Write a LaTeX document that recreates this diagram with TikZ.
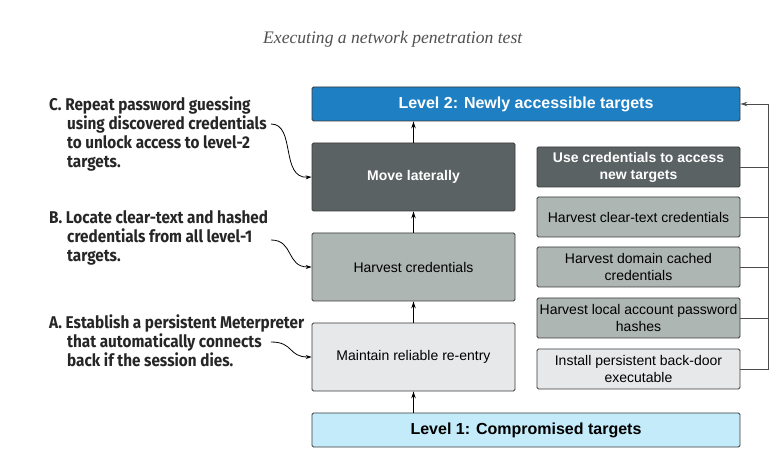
\documentclass[tikz,border=0pt]{standalone}
\usepackage{fontspec}
\setmainfont{Liberation Sans}
\newfontfamily\hdrfont{Liberation Serif}
\newfontfamily\annfont[FakeStretch=0.9]{Fira Sans}
\usetikzlibrary{arrows.meta}
\definecolor{lvltwo}{HTML}{1E7FC3}
\definecolor{darkbox}{HTML}{5B6263}
\definecolor{midbox}{HTML}{AEB6B4}
\definecolor{lightbox}{HTML}{E6E8E9}
\definecolor{lvlone}{HTML}{C4EBF9}
\definecolor{edgecol}{HTML}{3A3A3A}
\definecolor{hdrcol}{HTML}{505050}
\tikzset{
  box/.style={draw=edgecol, line width=0.9pt, rounded corners=1.5pt, inner sep=1pt, align=center,
    font=\fontsize{14}{17}\selectfont},
  widebox/.style={box, minimum width=428pt, minimum height=34pt, font=\fontsize{16}{19}\selectfont\bfseries},
  leftbox/.style={box, minimum width=203pt, minimum height=68pt},
  rightbox/.style={box, minimum width=203pt, minimum height=40pt},
  upar/.style={line width=0.9pt, -{Stealth[length=7pt,width=4.5pt]}},
  busline/.style={draw=black!70, line width=0.8pt},
  annarr/.style={line width=0.8pt, -{Stealth[length=6pt,width=4pt]}},
  ann/.style={anchor=base west, inner sep=0pt, text=black!85, font=\annfont\bfseries\fontsize{17}{19}\selectfont},
}
\begin{document}
\begin{tikzpicture}[x=1pt,y=-1pt]
\useasboundingbox (0,0) rectangle (777,462);
\node[anchor=base west, inner sep=0pt, text=hdrcol, font=\hdrfont\itshape\fontsize{17.6}{19}\selectfont] (hdr) at (263,44) {Executing a network penetration test};

\node[widebox, fill=lvltwo, text=white] (l2) at (526,104) {Level 2: Newly accessible targets};
\node[leftbox, fill=darkbox, text=white, font=\fontsize{14}{17}\selectfont\bfseries] (mv) at (413.5,177) {Move laterally};
\node[leftbox, fill=midbox] (hc) at (413.5,267) {Harvest credentials};
\node[leftbox, fill=lightbox] (mr) at (413.5,357) {Maintain reliable re-entry};
\node[widebox, fill=lvlone, text=black] (l1) at (526,430) {Level 1: Compromised targets};

\node[rightbox, fill=darkbox, text=white, font=\fontsize{14}{17}\selectfont\bfseries] (uc) at (638.5,167) {Use credentials to access\\new targets};
\node[rightbox, fill=midbox] (ct) at (638.5,217) {Harvest clear-text credentials};
\node[rightbox, fill=midbox] (dc) at (638.5,267) {Harvest domain cached\\credentials};
\node[rightbox, fill=midbox] (la) at (638.5,318) {Harvest local account password\\hashes};
\node[rightbox, fill=lightbox] (ip) at (638.5,369) {Install persistent back-door\\executable};

\draw[upar] (l1.north -| mr.south) -- (mr.south);
\draw[upar] (mr.north) -- (hc.south);
\draw[upar] (hc.north) -- (mv.south);
\draw[upar] (mv.north) -- (l2.south -| mv.north);

\coordinate (bus) at (768,0);
\draw[busline] (uc.east) -- (uc.east -| bus);
\draw[busline] (ct.east) -- (ct.east -| bus);
\draw[busline] (dc.east) -- (dc.east -| bus);
\draw[busline] (la.east) -- (la.east -| bus);
\draw[busline, -{Stealth[length=7pt,width=4.5pt]}] (ip.east) -- (ip.east -| bus) |- (l2.east);

\node[ann] (annC) at (49,111) {\parbox[t]{300pt}{\hangindent=18pt\hangafter=1 C. Repeat password guessing\\using discovered credentials\\to unlock access to level-2\\targets.}};
\node[ann] (annB) at (49,224) {\parbox[t]{300pt}{\hangindent=18pt\hangafter=1 B. Locate clear-text and hashed\\credentials from all level-1\\targets.}};
\node[ann] (annA) at (49,329) {\parbox[t]{300pt}{\hangindent=18pt\hangafter=1 A. Establish a persistent Meterpreter\\that automatically connects\\back if the session dies.}};

\coordinate (sC) at (271,124);
\coordinate (sB) at (271,240);
\coordinate (sA) at (271,342);
\draw[annarr] (sC) .. controls (296,124) and (280,179) .. (mv.west);
\draw[annarr] (sB) .. controls (294,240) and (286,267) .. (hc.west);
\draw[annarr] (sA) .. controls (294,342) and (288,357) .. (mr.west);
\end{tikzpicture}
\end{document}
